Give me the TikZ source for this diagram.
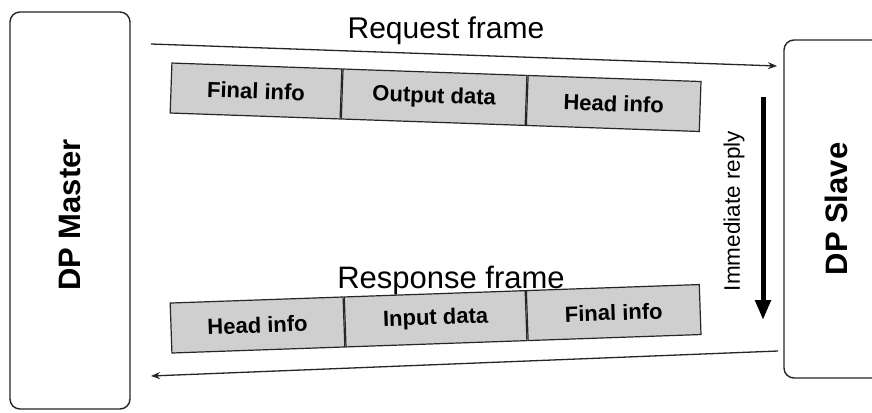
\documentclass[tikz,border=0pt]{standalone}
\usepackage{fontspec}
\setmainfont{Liberation Sans}
\usetikzlibrary{positioning,arrows.meta}
\tikzset{
	station/.style={draw=black!85, line width=1.4pt, rounded corners=10pt, rotate=90, inner sep=0pt, font=\fontsize{31}{33}\selectfont\bfseries},
	cell/.style={draw=black!85, fill=black!19, line width=1.2pt, minimum height=50pt, inner sep=0pt, font=\fontsize{22}{24}\selectfont\bfseries},
	flow/.style={draw=black!85, line width=1.3pt, -{Stealth[length=9pt,width=7pt]}},
	reply/.style={draw=black, line width=5pt, -{Triangle[length=20pt,width=15pt]}},
	title/.style={anchor=base, font=\fontsize{30}{32}\selectfont},
}

\begin{document}
\begin{tikzpicture}[x=1pt, y=-1pt]
			%%%%% START %%%%%
			\clip (0, 0) rectangle (872, 412);
			\fill[white] (0, 0) rectangle (872, 412);
			
			\node[station, minimum width=397pt, minimum height=120pt] (master) at (70, 210.5) {\hspace*{-9pt}DP Master};
			\node[station, minimum width=338pt, minimum height=104pt] (slave) at (836, 209) {DP Slave};
			
			\node[cell, rotate=-2, minimum width=170pt] (finreq) at (256, 91) {Final info};
			\node[cell, rotate=-2, minimum width=184pt, right=0pt of finreq] (outreq) {Output data};
			\node[cell, rotate=-2, minimum width=173pt, right=0pt of outreq] (headreq) {Head info};
			
			\node[cell, rotate=2, minimum width=173pt] (headres) at (257.5, 325) {Head info};
			\node[cell, rotate=2, minimum width=181pt, right=0pt of headres] (inres) {Input data};
			\node[cell, rotate=2, minimum width=173pt, right=0pt of inres] (finres) {Final info};
			
			\node[title] (reqlabel) at (446, 39) {Request frame};
			\node[title, font=\fontsize{31}{33}\selectfont] (reslabel) at (451, 288) {Response frame};
			
			\coordinate (reqa) at (151, 44);
			\coordinate (reqb) at (777, 66);
			\draw[flow] (reqa) -- (reqb);
			
			\coordinate (resa) at (778, 351);
			\coordinate (resb) at (151, 376);
			\draw[flow] (resa) -- (resb);
			
			\coordinate (replya) at (763, 97);
			\coordinate (replyb) at (763, 320);
			\draw[reply] (replya) -- (replyb);
			\node[rotate=90, font=\fontsize{22.5}{24}\selectfont] (replylabel) at (734, 211) {Immediate reply};
			
			%%%%% END %%%%%
\end{tikzpicture}
\end{document}
